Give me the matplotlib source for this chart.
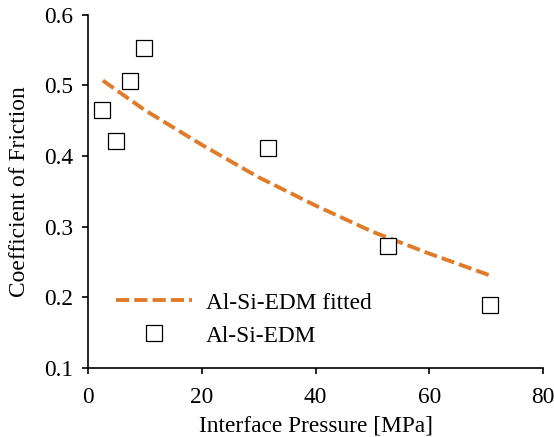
import matplotlib
matplotlib.use("Agg")
import matplotlib.pyplot as plt

# measured data
pressure = [2.5, 4.9, 7.4, 9.8, 31.6, 52.7, 70.7]
friction = [0.465, 0.422, 0.507, 0.553, 0.411, 0.272, 0.189]

# fitted curve
fit_pressure = [2.6, 10, 20, 30, 40, 50, 60, 70.7]
fit_friction = [0.507, 0.465, 0.416, 0.370, 0.330, 0.293, 0.262, 0.231]

xticks = [0, 20, 40, 60, 80]
yticks = [0.1, 0.2, 0.3, 0.4, 0.5, 0.6]

plt.rcParams['font.family'] = ['Liberation Serif', 'DejaVu Serif']
FS = 16.8

fig = plt.figure(figsize=(5.54, 4.37), dpi=100)
ax = fig.add_axes([0.159, 0.158, 0.821, 0.808])

ax.plot(fit_pressure, fit_friction, color='#E07B2A', lw=2.8,
        dashes=(3.4, 1.3), label='Al-Si-EDM fitted')
ax.plot(pressure, friction, linestyle='none', marker='s', markersize=11.5,
        markerfacecolor='white', markeredgecolor='black', markeredgewidth=0.9,
        label='Al-Si-EDM')

ax.set_xlim(0, 80)
ax.set_ylim(0.1, 0.6)
ax.set_xticks(xticks)
ax.set_yticks(yticks)
ax.set_xticklabels([str(v) for v in xticks])
ax.set_yticklabels([f"{v:.1f}" for v in yticks])
ax.tick_params(direction='out', length=4, width=1.2, labelsize=FS, colors='black')
ax.tick_params(axis='y', pad=7)
ax.tick_params(axis='x', pad=10)
for s in ['top', 'right']:
    ax.spines[s].set_visible(False)
for s in ['left', 'bottom']:
    ax.spines[s].set_linewidth(1.2)

ax.set_xlabel('Interface Pressure [MPa]', fontsize=FS, labelpad=5)
ax.set_ylabel('Coefficient of Friction', fontsize=FS, labelpad=10)

ax.legend(loc='lower left', bbox_to_anchor=(0.041, 0.034), frameon=False,
          fontsize=FS, handlelength=3.26, handletextpad=0.6, labelspacing=0.5,
          borderaxespad=0.0)

fig.savefig('out.png', dpi=100)
